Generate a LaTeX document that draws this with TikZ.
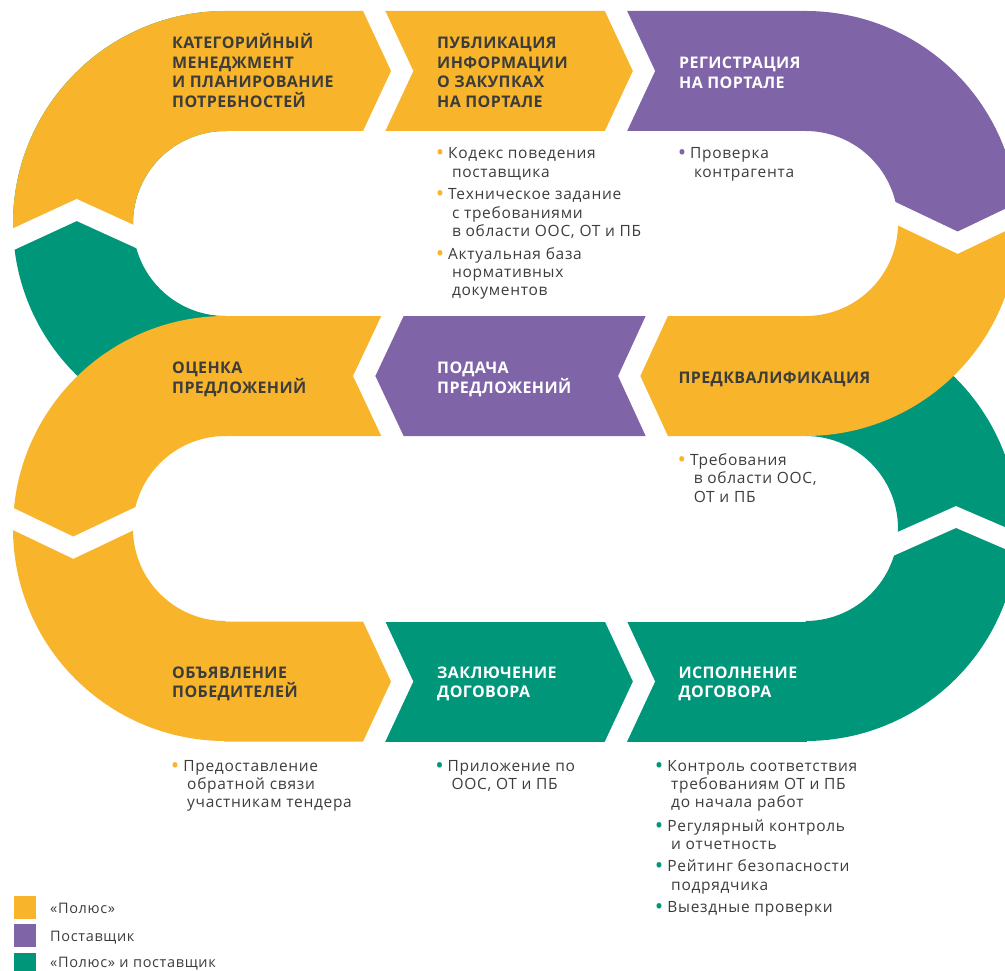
\documentclass[tikz,border=0pt]{standalone}
\usepackage{fontspec}
\setmainfont{Open Sans}
\newfontfamily\bodyfont[LetterSpace=4.5]{Open Sans}
\newfontfamily\stepfont[LetterSpace=2.5]{Open Sans}
\definecolor{cy}{HTML}{F8B52B}
\definecolor{cp}{HTML}{8064A8}
\definecolor{cg}{HTML}{00967A}
\definecolor{ct}{HTML}{3C3C3B}
\newcommand\itm[1]{\makebox[0pt][c]{\textcolor{#1}{\raisebox{-1.8pt}{\scalebox{1.45}{•}}}}\hspace*{8.2pt}}
\newcommand\cnt{\hspace*{12pt}}
\tikzset{
  ringfill/.style={even odd rule},
  gap/.style={draw=white, line width=20pt, line join=miter, miter limit=10},
  lbl/.style={font=\stepfont\fontsize{16}{19.7}\selectfont\bfseries, align=left, anchor=base west, inner sep=0pt},
  dark/.style={text=ct},
  light/.style={text=white},
  body/.style={font=\bodyfont\fontsize{15.5}{18.3}\selectfont, text=ct, align=left, anchor=base west, inner sep=0pt},
  legbox/.style={minimum width=22.7pt, minimum height=22.5pt, inner sep=0pt, anchor=north west},
  legtxt/.style={font=\bodyfont\fontsize{14.5}{17}\selectfont, text=ct, anchor=base west, inner sep=0pt}
}
\begin{document}
\begin{tikzpicture}[x=1pt,y=-1pt]
\useasboundingbox (0,0) rectangle (1005,971);
\clip (0,0) rectangle (1005,971);
\coordinate (TL) at (225.5,223.5);
\coordinate (BL) at (225.5,528.5);
\coordinate (TR) at (805.5,223.5);
\coordinate (BR) at (805.5,528.5);
% ---------- green ----------
\begin{scope}
  \clip (-50,-50) rectangle (225.5,700);
  \fill[cg,ringfill] (TL) circle[radius=212.5] (TL) circle[radius=92.5];
\end{scope}
\begin{scope}
  \clip (805.5,300) rectangle (1100,800);
  \fill[cg,ringfill] (BR) circle[radius=212.5] (BR) circle[radius=92.5];
\end{scope}
\fill[cg] (374,621.5) rectangle (807,741.5);
% ---------- yellow ----------
\begin{scope}
  \clip (-30,-30) -- (226,-30) -- (226,236.2) -- (134.3,236.2) -- (76.7,210) -- (14.2,238.8) -- (-30,259.2) -- cycle;
  \fill[cy,ringfill] (TL) circle[radius=212.5] (TL) circle[radius=92.5];
\end{scope}
\fill[cy] (224,11) -- (616,11) -- (644,71) -- (616,131) -- (224,131) -- cycle;
\begin{scope}
  \clip (-50,300) rectangle (225.5,800);
  \fill[cy,ringfill] (BL) circle[radius=212.5] (BL) circle[radius=92.5];
\end{scope}
\fill[cy] (224,316) -- (392.5,316) -- (364.2,376) -- (392.5,436) -- (224,436) -- cycle;
\fill[cy] (224,621.5) -- (374.2,621.5) -- (402.2,681.5) -- (374.2,741.5) -- (224,741.5) -- cycle;
\begin{scope}
  \clip (805.5,214) -- (897.2,214) -- (957.7,242.7) -- (1017.3,214.2) -- (1060,193.8) -- (1060,800) -- (805.5,800) -- cycle;
  \fill[cy,ringfill] (TR) circle[radius=212.5] (TR) circle[radius=92.5];
\end{scope}
\fill[cy] (656.7,316) -- (807,316) -- (807,436) -- (656.7,436) -- (629.2,376) -- cycle;
% ---------- purple ----------
\begin{scope}
  \clip (805.5,-30) -- (1060,-30) -- (1060,193.8) -- (1017.3,214.2) -- (957.7,242.7) -- (897.2,214) -- (805.5,214) -- cycle;
  \fill[cp,ringfill] (TR) circle[radius=212.5] (TR) circle[radius=92.5];
\end{scope}
\fill[cp] (616,11) -- (807,11) -- (807,131) -- (616,131) -- (644,71) -- cycle;
\fill[cp] (392.5,316) -- (656.7,316) -- (629.2,376) -- (656.7,436) -- (392.5,436) -- (364.2,376) -- cycle;
% ---------- white gaps ----------
\draw[gap] (367.2,-4) -- (402.2,71) -- (367.2,146);
\draw[gap] (609,-4) -- (644,71) -- (609,146);
\draw[gap] (399.5,301) -- (364.2,376) -- (399.5,451);
\draw[gap] (663.7,301) -- (629.2,376) -- (663.7,451);
\draw[gap] (367.2,606.5) -- (402.2,681.5) -- (367.2,756.5);
\draw[gap] (609,606.5) -- (644,681.5) -- (609,756.5);
\draw[gap] (-1.4,246) -- (76.7,210) -- (148.7,242.8);
\draw[gap] (-1.2,512.1) -- (73.3,547.7) -- (148.9,511.8);
\draw[gap] (882.1,206.8) -- (957.7,242.7) -- (1032.2,207.1);
\draw[gap] (881.6,550.1) -- (956,517) -- (1032.9,550.1);
% ---------- step labels (anchor = baseline of last line) ----------
\node[lbl,dark] (s1) at (172,107.6) {КАТЕГОРИЙНЫЙ\\МЕНЕДЖМЕНТ\\И ПЛАНИРОВАНИЕ\\ПОТРЕБНОСТЕЙ};
\node[lbl,dark] (s2) at (437,107.6) {ПУБЛИКАЦИЯ\\ИНФОРМАЦИИ\\О ЗАКУПКАХ\\НА ПОРТАЛЕ};
\node[lbl,light] (s3) at (679,88.1) {РЕГИСТРАЦИЯ\\НА ПОРТАЛЕ};
\node[lbl,dark] (s4) at (678.3,383) {ПРЕДКВАЛИФИКАЦИЯ};
\node[lbl,light] (s5) at (437,393.1) {ПОДАЧА\\ПРЕДЛОЖЕНИЙ};
\node[lbl,dark] (s6) at (172,393.1) {ОЦЕНКА\\ПРЕДЛОЖЕНИЙ};
\node[lbl,dark] (s7) at (172,697.7) {ОБЪЯВЛЕНИЕ\\ПОБЕДИТЕЛЕЙ};
\node[lbl,light] (s8) at (437,697.7) {ЗАКЛЮЧЕНИЕ\\ДОГОВОРА};
\node[lbl,light] (s9) at (678.3,697.7) {ИСПОЛНЕНИЕ\\ДОГОВОРА};
% ---------- bullet texts ----------
\node[body] (b2) at (439.8,295.9) {\itm{cy}Кодекс поведения\\\cnt поставщика\\[4.5pt]
\itm{cy}Техническое задание\\\cnt с требованиями\\\cnt в области ООС, ОТ и ПБ\\[4.5pt]
\itm{cy}Актуальная база\\\cnt нормативных\\\cnt документов};
\node[body] (b3) at (681.8,177.1) {\itm{cp}Проверка\\\cnt контрагента};
\node[body] (b4) at (681.7,502.1) {\itm{cy}Требования\\\cnt в области ООС,\\\cnt ОТ и ПБ};
\node[body] (b7) at (175,807.8) {\itm{cy}Предоставление\\\cnt обратной связи\\\cnt участникам тендера};
\node[body] (b8) at (439.3,789.5) {\itm{cg}Приложение по\\\cnt ООС, ОТ и ПБ};
\node[body] (b9) at (659,912.8) {\itm{cg}Контроль соответствия\\\cnt требованиям ОТ и ПБ\\\cnt до начала работ\\[5.5pt]
\itm{cg}Регулярный контроль\\\cnt и отчетность\\[3.5pt]
\itm{cg}Рейтинг безопасности\\\cnt подрядчика\\[4.5pt]
\itm{cg}Выездные проверки};
% ---------- legend ----------
\node[legbox,fill=cy] (k1) at (13.3,896) {};
\node[legbox,fill=cp] (k2) at (13.3,924.2) {};
\node[legbox,fill=cg] (k3) at (13.3,952.4) {};
\node[legtxt] (l1) at (50,913.5) {«Полюс»};
\node[legtxt] (l2) at (50,941.9) {Поставщик};
\node[legtxt] (l3) at (50,967.2) {«Полюс» и поставщик};
\end{tikzpicture}
\end{document}
